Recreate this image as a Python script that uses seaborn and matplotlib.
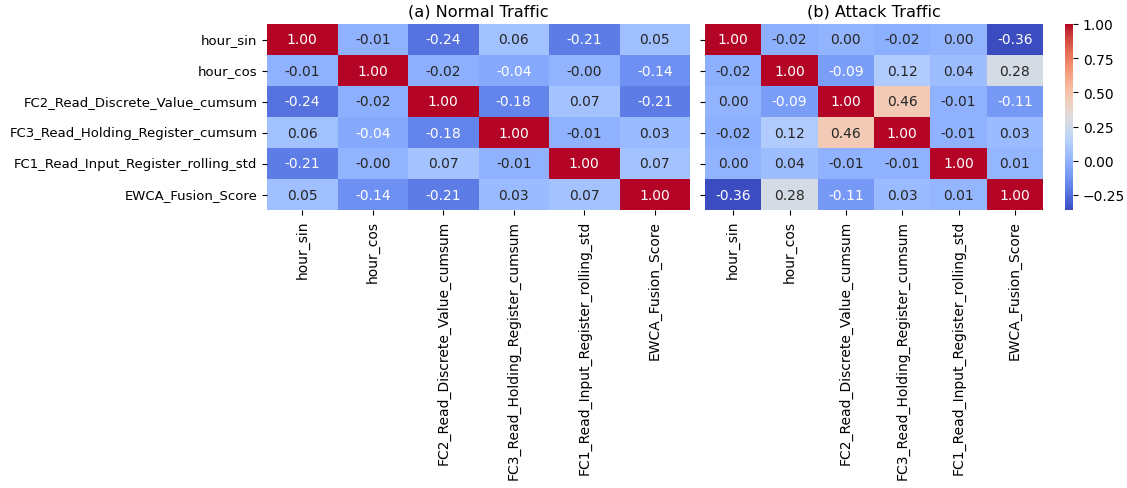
import numpy as np
import pandas as pd
import seaborn as sns
import matplotlib
matplotlib.use("Agg")
import matplotlib.pyplot as plt

features = ["hour_sin", "hour_cos", "FC2_Read_Discrete_Value_cumsum",
            "FC3_Read_Holding_Register_cumsum", "FC1_Read_Input_Register_rolling_std",
            "EWCA_Fusion_Score"]

normal_corr = [
    [1.00, -0.01, -0.24, 0.06, -0.21, 0.05],
    [-0.01, 1.00, -0.02, -0.045, -0.00, -0.14],
    [-0.24, -0.02, 1.00, -0.18, 0.07, -0.21],
    [0.06, -0.045, -0.18, 1.00, -0.01, 0.03],
    [-0.21, -0.00, 0.07, -0.01, 1.00, 0.07],
    [0.05, -0.14, -0.21, 0.03, 0.07, 1.00],
]

attack_corr = [
    [1.00, -0.02, 0.00, -0.02, 0.00, -0.36],
    [-0.02, 1.00, -0.09, 0.12, 0.04, 0.28],
    [0.00, -0.09, 1.00, 0.46, -0.01, -0.11],
    [-0.02, 0.12, 0.46, 1.00, -0.01, 0.03],
    [0.00, 0.04, -0.01, -0.01, 1.00, 0.01],
    [-0.36, 0.28, -0.11, 0.03, 0.01, 1.00],
]

titles = ["(a) Normal Traffic", "(b) Attack Traffic"]

df_normal = pd.DataFrame(normal_corr, index=features, columns=features)
df_attack = pd.DataFrame(attack_corr, index=features, columns=features)

vmin = min(df_normal.values.min(), df_attack.values.min())
vmax = max(df_normal.values.max(), df_attack.values.max())

fig = plt.figure(figsize=(11.27, 4.89), dpi=100)
W, H = 1127, 489
def rect(x0, y0, x1, y1):
    return [x0 / W, (H - y1) / H, (x1 - x0) / W, (y1 - y0) / H]

ax1 = fig.add_axes(rect(267, 25, 690, 211))
ax2 = fig.add_axes(rect(705, 25, 1043, 211))
cax = fig.add_axes(rect(1065, 25, 1073, 211))

annot_kws = {"fontsize": 10}
sns.heatmap(df_normal, ax=ax1, annot=True, fmt=".2f", cmap="coolwarm",
            vmin=vmin, vmax=vmax, cbar=False, annot_kws=annot_kws)
sns.heatmap(df_attack, ax=ax2, annot=True, fmt=".2f", cmap="coolwarm",
            vmin=vmin, vmax=vmax, cbar=True, cbar_ax=cax, annot_kws=annot_kws)

ax1.set_title(titles[0], fontsize=11.6)
ax2.set_title(titles[1], fontsize=11.6)
ax2.set_yticklabels([])
for ax in (ax1, ax2):
    ax.tick_params(axis="x", rotation=90, labelsize=10)
ax1.tick_params(axis="y", rotation=0, labelsize=9.5)
cax.tick_params(labelsize=10)

fig.savefig("out.png", dpi=100)
